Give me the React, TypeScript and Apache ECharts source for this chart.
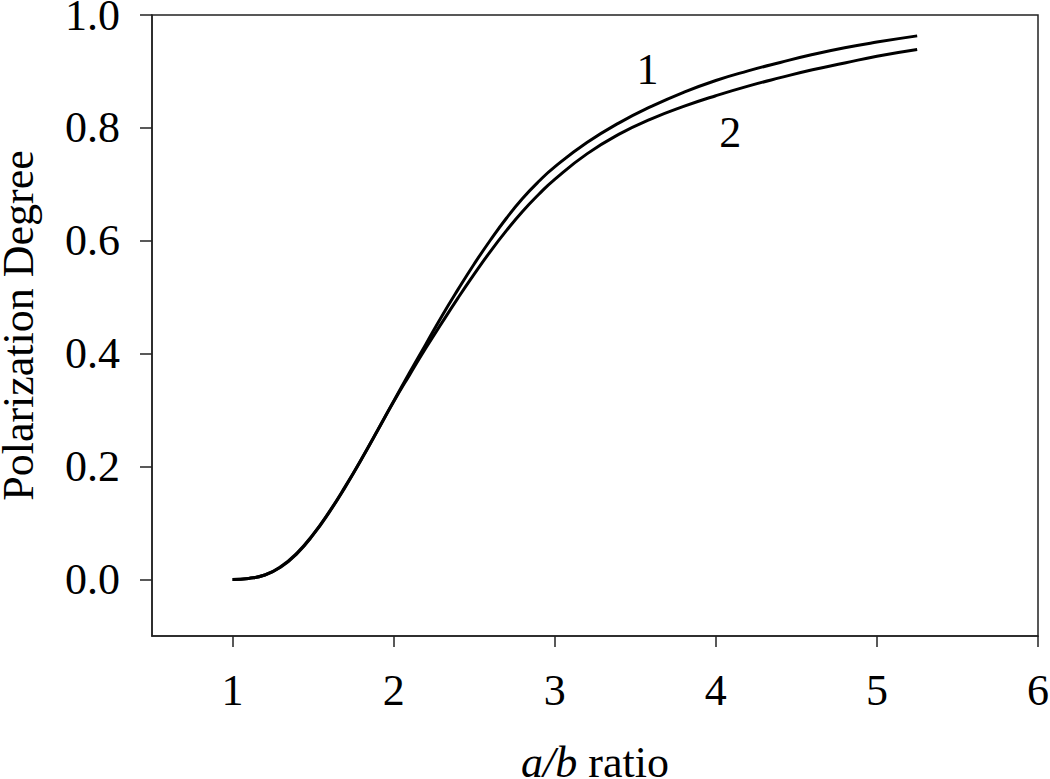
import React, { useEffect, useRef } from "react";
import * as echarts from "echarts";

const xTicks = [1, 2, 3, 4, 5, 6];
const yTicks = [0, 0.2, 0.4, 0.6, 0.8, 1.0];

const xValues = [1.0, 1.1, 1.2, 1.3, 1.4, 1.5, 1.6, 1.7, 1.8, 1.9, 2.0, 2.1, 2.2, 2.3, 2.4, 2.5, 2.6, 2.7, 2.8, 2.9, 3.0, 3.2, 3.4, 3.6, 3.8, 4.0, 4.2, 4.4, 4.6, 4.8, 5.0, 5.25];
const curve1 = [0, 0.002, 0.008, 0.022, 0.046, 0.079, 0.119, 0.164, 0.213, 0.264, 0.316, 0.367, 0.417, 0.467, 0.514, 0.559, 0.601, 0.64, 0.675, 0.705, 0.731, 0.774, 0.809, 0.838, 0.863, 0.884, 0.901, 0.916, 0.93, 0.942, 0.952, 0.963];
const curve2 = [0, 0.002, 0.008, 0.023, 0.047, 0.08, 0.12, 0.165, 0.213, 0.264, 0.315, 0.363, 0.41, 0.455, 0.499, 0.541, 0.581, 0.618, 0.652, 0.682, 0.709, 0.754, 0.789, 0.816, 0.838, 0.857, 0.874, 0.889, 0.903, 0.915, 0.927, 0.939];

const curveLabels = ["1", "2"];
const curveLabelX = [3.576, 4.09];
const curveLabelY = [0.904, 0.792];

const FONT = "'Liberation Serif', 'Times New Roman', serif";

export default function App() {
  const ref = useRef<HTMLDivElement>(null);
  useEffect(() => {
    document.body.style.margin = "0";
    if (!ref.current) return;
    const chart = echarts.init(ref.current, null, { renderer: "svg" });
    const axisLine = { show: true, onZero: false, lineStyle: { color: "#222", width: 1.5 } };
    chart.setOption({
      animation: false,
      backgroundColor: "#fff",
      grid: {
        left: 152,
        right: 12,
        top: 15,
        bottom: 143,
        show: true,
        borderColor: "#222",
        borderWidth: 1.5,
        containLabel: false,
        outerBoundsMode: "none",
      },
      xAxis: {
        type: "value",
        min: 0.5,
        max: 6,
        axisLine,
        splitLine: { show: false },
        axisTick: { show: true, length: 11, customValues: xTicks, lineStyle: { color: "#222", width: 1.5 } },
        axisLabel: {
          customValues: xTicks,
          formatter: (v: number) => String(v),
          fontFamily: FONT,
          fontSize: 44,
          color: "#000",
          margin: 32,
        },
        name: "{i|a/b} ratio",
        nameLocation: "middle",
        nameGap: 104,
        nameTextStyle: {
          fontFamily: FONT,
          fontSize: 44,
          color: "#000",
          rich: {
            i: { fontFamily: FONT, fontSize: 44, fontStyle: "italic", color: "#000" },
          },
        },
      },
      yAxis: {
        type: "value",
        min: -0.1,
        max: 1.0,
        axisLine,
        splitLine: { show: false },
        axisTick: { show: true, length: 12, customValues: yTicks, lineStyle: { color: "#222", width: 1.5 } },
        axisLabel: {
          customValues: yTicks,
          formatter: (v: number) => v.toFixed(1),
          fontFamily: FONT,
          fontSize: 44,
          color: "#000",
          margin: 32,
        },
        name: "Polarization Degree",
        nameLocation: "middle",
        nameGap: 112,
        nameTextStyle: { fontFamily: FONT, fontSize: 44, color: "#000" },
      },
      series: [
        {
          type: "line",
          name: "1",
          data: xValues.map((x, i) => [x, curve1[i]]),
          smooth: true,
          showSymbol: false,
          lineStyle: { color: "#000", width: 3 },
        },
        {
          type: "line",
          name: "2",
          data: xValues.map((x, i) => [x, curve2[i]]),
          smooth: true,
          showSymbol: false,
          lineStyle: { color: "#000", width: 3 },
        },
        {
          type: "scatter",
          symbolSize: 0,
          silent: true,
          itemStyle: { opacity: 1, color: "#000" },
          data: curveLabels.map((t, i) => ({ value: [curveLabelX[i], curveLabelY[i]], name: t })),
          label: {
            show: true,
            position: "inside",
            formatter: (p: any) => p.name,
            fontFamily: FONT,
            fontSize: 44,
            color: "#000",
            opacity: 1,
            textBorderWidth: 0,
          },
        },
      ],
    });
    return () => chart.dispose();
  }, []);
  return <div ref={ref} style={{ width: 1050, height: 779 }} />;
}
